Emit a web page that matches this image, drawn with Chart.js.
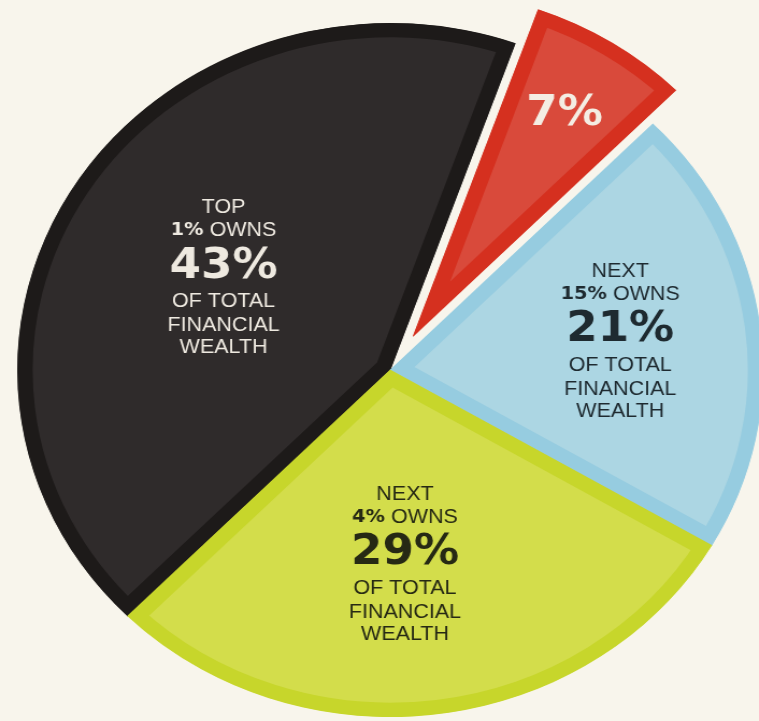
<!DOCTYPE html>
<html>
<head>
<meta charset="utf-8">
<script src="https://cdn.jsdelivr.net/npm/chart.js@4"></script>
<style>
  html, body { margin: 0; padding: 0; background: #f8f5ec; overflow: hidden; }
  /* the pie is drawn slightly wider than tall */
  #wealthPie { display: block; transform: scaleX(1.075); transform-origin: 0 0; }
</style>
</head>
<body>
<canvas id="wealthPie" width="726" height="740"></canvas>
<script>
// Share of total financial wealth held by each group (percent)
const groups = ['Top 1%', 'Bottom 80%', 'Next 15%', 'Next 4%'];
const shares = [43, 7, 21, 29];

// text printed inside each slice
const headLines = ['TOP', '', 'NEXT', 'NEXT'];
const groupSizes = ['1%', '', '15%', '4%'];
const tailLines = ['OF TOTAL', 'FINANCIAL', 'WEALTH'];

const fillColors = ['#2f2b2b', '#d94a3b', '#acd6e3', '#d3dd4b'];
const edgeColors = ['#1d1a19', '#d5301f', '#96cce0', '#c7d62b'];
const textColors = ['#eee9e0', '#f4ede3', '#1e2a30', '#262914'];

const FONT_SMALL = '20px "Liberation Sans", Arial, sans-serif';
const FONT_SMALL_BOLD = 'bold 18px "DejaVu Sans", sans-serif';
const FONT_BIG = 'bold 42px "DejaVu Sans", sans-serif';

// pushes selected slices away from the centre along their mid angle
const explodeSlice = {
    id: 'explodeSlice',
    afterDatasetsUpdate(chart, args, opts) {
        const meta = chart.getDatasetMeta(0);
        opts.distances.forEach((d, i) => {
            const arc = meta.data[i];
            if (!arc || !d) return;
            const mid = (arc.startAngle + arc.endAngle) / 2;
            arc.x += Math.cos(mid) * d;
            arc.y += Math.sin(mid) * d;
        });
    }
};

function drawRuns(ctx, runs, cx, y) {
    let total = 0;
    runs.forEach(r => { ctx.font = r.font; r.w = ctx.measureText(r.text).width; total += r.w; });
    let x = cx - total / 2;
    runs.forEach(r => {
        ctx.font = r.font;
        ctx.fillText(r.text, x, y);
        x += r.w;
    });
}

// multi-line captions drawn inside the slices
const sliceLabels = {
    id: 'sliceLabels',
    afterDatasetsDraw(chart, args, opts) {
        const ctx = chart.ctx;
        const meta = chart.getDatasetMeta(0);
        ctx.save();
        ctx.textAlign = 'left';
        ctx.textBaseline = 'middle';
        meta.data.forEach((arc, i) => {
            const place = opts.placement[i];
            const mid = (arc.startAngle + arc.endAngle) / 2 + place.turn * Math.PI / 180;
            const cx = arc.x + Math.cos(mid) * arc.outerRadius * place.radius;
            const cy = arc.y + Math.sin(mid) * arc.outerRadius * place.radius;
            ctx.fillStyle = textColors[i];

            const big = [{ text: shares[i] + '%', font: FONT_BIG }];
            if (!headLines[i]) {
                drawRuns(ctx, big, cx, cy);
                return;
            }
            const lines = [
                [{ text: headLines[i], font: FONT_SMALL }],
                [{ text: groupSizes[i], font: FONT_SMALL_BOLD }, { text: ' OWNS', font: FONT_SMALL }],
                big
            ].concat(tailLines.map(t => [{ text: t, font: FONT_SMALL }]));
            lines.forEach((runs, k) => drawRuns(ctx, runs, cx, cy + opts.lineOffsets[k]));
        });
        ctx.restore();
    }
};

const ctx = document.getElementById('wealthPie').getContext('2d');
const wealthChart = new Chart(ctx, {
    type: 'pie',
    data: {
        labels: groups,
        datasets: [{
            data: shares,
            backgroundColor: fillColors,
            borderColor: edgeColors,
            borderWidth: 14,
            borderAlign: 'inner',
            borderJoinStyle: 'miter'
        }]
    },
    options: {
        responsive: false,
        devicePixelRatio: 1,
        animation: false,
        events: [],
        rotation: 224.8,
        radius: 347,
        layout: { padding: 0 },
        plugins: {
            legend: { display: false },
            tooltip: { enabled: false },
            explodeSlice: { distances: [0, 40, 0, 0] },
            sliceLabels: {
                lineOffsets: [-59, -36, 0, 35, 59, 81],
                placement: [
                    { radius: 0.537, turn: 1.5 },
                    { radius: 0.757, turn: 0.2 },
                    { radius: 0.627, turn: -3.1 },
                    { radius: 0.529, turn: 3.1 }
                ]
            }
        }
    },
    plugins: [explodeSlice, sliceLabels]
});
</script>
</body>
</html>
